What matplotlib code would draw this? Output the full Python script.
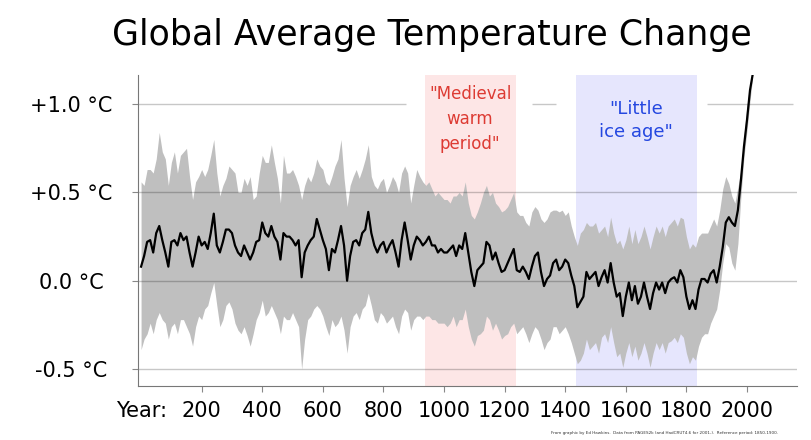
import matplotlib.pyplot as plt
import numpy as np

# decadal values (deg C vs 1850-1900)
years = list(range(0, 2011, 10)) + [2018]

mean_t = [
    0.08, 0.14, 0.22, 0.23, 0.16, 0.27, 0.31, 0.23, 0.16, 0.08,
    0.22, 0.23, 0.20, 0.27, 0.23, 0.25, 0.16, 0.08, 0.16, 0.25,
    0.20, 0.22, 0.18, 0.27, 0.38, 0.20, 0.16, 0.22, 0.29, 0.29,
    0.27, 0.20, 0.16, 0.14, 0.20, 0.16, 0.12, 0.16, 0.22, 0.23,
    0.33, 0.27, 0.25, 0.31, 0.25, 0.22, 0.12, 0.27, 0.25, 0.25,
    0.23, 0.20, 0.23, 0.02, 0.16, 0.20, 0.23, 0.25, 0.35, 0.29,
    0.23, 0.18, 0.06, 0.18, 0.16, 0.23, 0.31, 0.20, 0.00, 0.14,
    0.22, 0.23, 0.20, 0.27, 0.29, 0.39, 0.27, 0.20, 0.16, 0.20,
    0.22, 0.16, 0.20, 0.23, 0.16, 0.08, 0.23, 0.33, 0.23, 0.12,
    0.20, 0.25, 0.23, 0.20, 0.22, 0.25, 0.20, 0.20, 0.16, 0.18,
    0.16, 0.16, 0.18, 0.20, 0.14, 0.20, 0.18, 0.27, 0.16, 0.05,
    -0.03, 0.06, 0.08, 0.10, 0.22, 0.20, 0.12, 0.16, 0.10, 0.05,
    0.06, 0.10, 0.14, 0.18, 0.06, 0.05, 0.08, 0.05, 0.01, 0.08,
    0.14, 0.16, 0.05, -0.03, 0.01, 0.03, 0.10, 0.12, 0.06, 0.08,
    0.12, 0.10, 0.03, -0.03, -0.15, -0.12, -0.09, 0.05, 0.01, 0.03,
    0.05, -0.03, 0.02, 0.06, -0.01, 0.10, -0.01, -0.09, -0.07, -0.20,
    -0.09, -0.01, -0.11, -0.03, -0.13, -0.09, -0.01, -0.09, -0.16, -0.07,
    -0.01, -0.05, -0.01, -0.07, -0.01, 0.01, 0.02, -0.01, 0.06, 0.02,
    -0.09, -0.16, -0.11, -0.16, -0.05, 0.01, 0.01, -0.01, 0.04, 0.06,
    -0.01, 0.08, 0.19, 0.33, 0.36, 0.33, 0.31, 0.40, 0.57, 0.76,
    0.91, 1.08, 1.16,
]

upper_t = [
    0.56, 0.54, 0.63, 0.63, 0.61, 0.69, 0.84, 0.73, 0.69, 0.54,
    0.67, 0.73, 0.61, 0.71, 0.73, 0.75, 0.59, 0.46, 0.56, 0.59,
    0.63, 0.59, 0.63, 0.71, 0.80, 0.61, 0.48, 0.54, 0.58, 0.65,
    0.63, 0.61, 0.50, 0.50, 0.58, 0.54, 0.59, 0.46, 0.48, 0.61,
    0.71, 0.67, 0.67, 0.77, 0.67, 0.58, 0.44, 0.71, 0.61, 0.61,
    0.63, 0.59, 0.54, 0.46, 0.54, 0.59, 0.56, 0.61, 0.69, 0.65,
    0.63, 0.56, 0.54, 0.59, 0.65, 0.69, 0.80, 0.58, 0.42, 0.54,
    0.59, 0.63, 0.58, 0.63, 0.69, 0.77, 0.59, 0.54, 0.52, 0.56,
    0.58, 0.50, 0.54, 0.59, 0.56, 0.50, 0.61, 0.65, 0.61, 0.44,
    0.54, 0.63, 0.59, 0.56, 0.54, 0.56, 0.52, 0.48, 0.50, 0.48,
    0.46, 0.46, 0.44, 0.48, 0.48, 0.50, 0.48, 0.56, 0.44, 0.37,
    0.35, 0.39, 0.44, 0.50, 0.54, 0.48, 0.50, 0.44, 0.42, 0.39,
    0.40, 0.42, 0.46, 0.50, 0.39, 0.37, 0.37, 0.33, 0.31, 0.39,
    0.42, 0.40, 0.35, 0.33, 0.35, 0.39, 0.40, 0.40, 0.39, 0.40,
    0.37, 0.39, 0.31, 0.25, 0.20, 0.27, 0.29, 0.33, 0.31, 0.31,
    0.33, 0.27, 0.29, 0.31, 0.25, 0.36, 0.27, 0.21, 0.23, 0.18,
    0.23, 0.31, 0.21, 0.29, 0.21, 0.25, 0.31, 0.25, 0.18, 0.25,
    0.31, 0.27, 0.31, 0.25, 0.31, 0.33, 0.35, 0.31, 0.36, 0.35,
    0.25, 0.18, 0.21, 0.19, 0.25, 0.27, 0.27, 0.27, 0.31, 0.35,
    0.31, 0.40, 0.52, 0.59, 0.55, 0.48, 0.44, 0.53, 0.63, 0.82,
    0.99, 1.12, 1.16,
]

lower_t = [
    -0.39, -0.33, -0.30, -0.24, -0.30, -0.22, -0.18, -0.22, -0.24, -0.33,
    -0.26, -0.24, -0.30, -0.22, -0.22, -0.26, -0.30, -0.37, -0.26, -0.20,
    -0.22, -0.16, -0.14, -0.07, -0.01, -0.14, -0.26, -0.22, -0.14, -0.12,
    -0.16, -0.24, -0.28, -0.30, -0.26, -0.31, -0.37, -0.30, -0.22, -0.18,
    -0.11, -0.20, -0.18, -0.14, -0.18, -0.22, -0.30, -0.20, -0.22, -0.22,
    -0.18, -0.22, -0.26, -0.50, -0.33, -0.22, -0.20, -0.16, -0.14, -0.16,
    -0.20, -0.26, -0.31, -0.22, -0.26, -0.24, -0.20, -0.28, -0.41, -0.26,
    -0.20, -0.18, -0.22, -0.16, -0.14, -0.07, -0.14, -0.22, -0.24, -0.18,
    -0.20, -0.24, -0.22, -0.20, -0.26, -0.30, -0.20, -0.16, -0.18, -0.28,
    -0.22, -0.20, -0.20, -0.22, -0.20, -0.20, -0.22, -0.22, -0.24, -0.24,
    -0.24, -0.26, -0.24, -0.20, -0.26, -0.22, -0.22, -0.16, -0.26, -0.33,
    -0.37, -0.31, -0.30, -0.28, -0.20, -0.22, -0.28, -0.24, -0.28, -0.33,
    -0.31, -0.30, -0.26, -0.24, -0.30, -0.28, -0.26, -0.30, -0.35, -0.30,
    -0.26, -0.28, -0.33, -0.39, -0.35, -0.33, -0.26, -0.26, -0.30, -0.28,
    -0.26, -0.30, -0.35, -0.41, -0.47, -0.45, -0.41, -0.33, -0.39, -0.37,
    -0.35, -0.41, -0.32, -0.30, -0.35, -0.26, -0.35, -0.43, -0.41, -0.49,
    -0.41, -0.35, -0.43, -0.37, -0.45, -0.41, -0.35, -0.41, -0.49, -0.41,
    -0.35, -0.39, -0.35, -0.41, -0.35, -0.34, -0.32, -0.35, -0.30, -0.32,
    -0.41, -0.47, -0.43, -0.45, -0.37, -0.32, -0.30, -0.30, -0.24, -0.20,
    -0.16, -0.05, 0.10, 0.21, 0.19, 0.10, 0.06, 0.21, 0.48, 0.70,
    0.85, 1.02, 1.14,
]

medieval = (937, 1238)
little_ice = (1436, 1835)

yticks = [-0.5, 0.0, 0.5, 1.0]
ylabels = ["-0.5 °C", "0.0 °C", "+0.5 °C", "+1.0 °C"]
xticks = [0, 200, 400, 600, 800, 1000, 1200, 1400, 1600, 1800, 2000]
xlabels = ["Year:"] + [str(v) for v in xticks[1:]]

fig = plt.figure(figsize=(8.12, 4.40), dpi=100)
ax = fig.add_axes([0.170, 0.1227, 0.8115, 0.7068])

ax.axvspan(*medieval, color="#fde6e6", lw=0, zorder=0)
ax.axvspan(*little_ice, color="#e6e6fd", lw=0, zorder=0)

ax.fill_between(years, lower_t, upper_t, color="#bfbfbf", lw=0, zorder=1)

# grid lines (the top one is broken around the labels)
for v in yticks[:-1]:
    ax.axhline(v, color="black", alpha=0.22, lw=1, zorder=2)
ax.hlines([1.0, 1.0, 1.0], [-10, 1290, 1868], [875, 1370, 2152],
          color="black", alpha=0.22, lw=1, zorder=2)

ax.plot(years, mean_t, color="black", lw=1.6, zorder=3)

ax.text(1086, 0.915, '"Medieval\nwarm\nperiod"', color="#dd3b33", fontsize=12,
        ha="center", va="center", linespacing=1.5)
ax.text(1634, 0.905, '"Little\nice age"', color="#2447e0", fontsize=13,
        ha="center", va="center", linespacing=1.35)

ax.set_xlim(-10, 2165)
ax.set_ylim(-0.596, 1.165)
ax.set_yticks(yticks)
ax.set_yticklabels(ylabels, ha="center")
ax.set_xticks(xticks)
ax.set_xticklabels(xlabels)
ax.tick_params(axis="y", length=4, color="#888888", labelsize=15, pad=44)
ax.tick_params(axis="x", length=4, color="#888888", labelsize=15, pad=7)
ax.xaxis.get_major_ticks()[0].tick1line.set_visible(False)

for s in ["top", "right"]:
    ax.spines[s].set_visible(False)
for s in ["left", "bottom"]:
    ax.spines[s].set_color("#777777")

fig.text(0.532, 0.92, "Global Average Temperature Change", fontsize=25,
         ha="center", va="center")
fig.text(0.678, 0.016,
         "From graphic by Ed Hawkins.  Data from PAGES2k (and HadCRUT4.6 for 2001-).  Reference period: 1850-1900.",
         fontsize=3, ha="left", va="center", color="#333333")

fig.savefig("out.png", dpi=100)
